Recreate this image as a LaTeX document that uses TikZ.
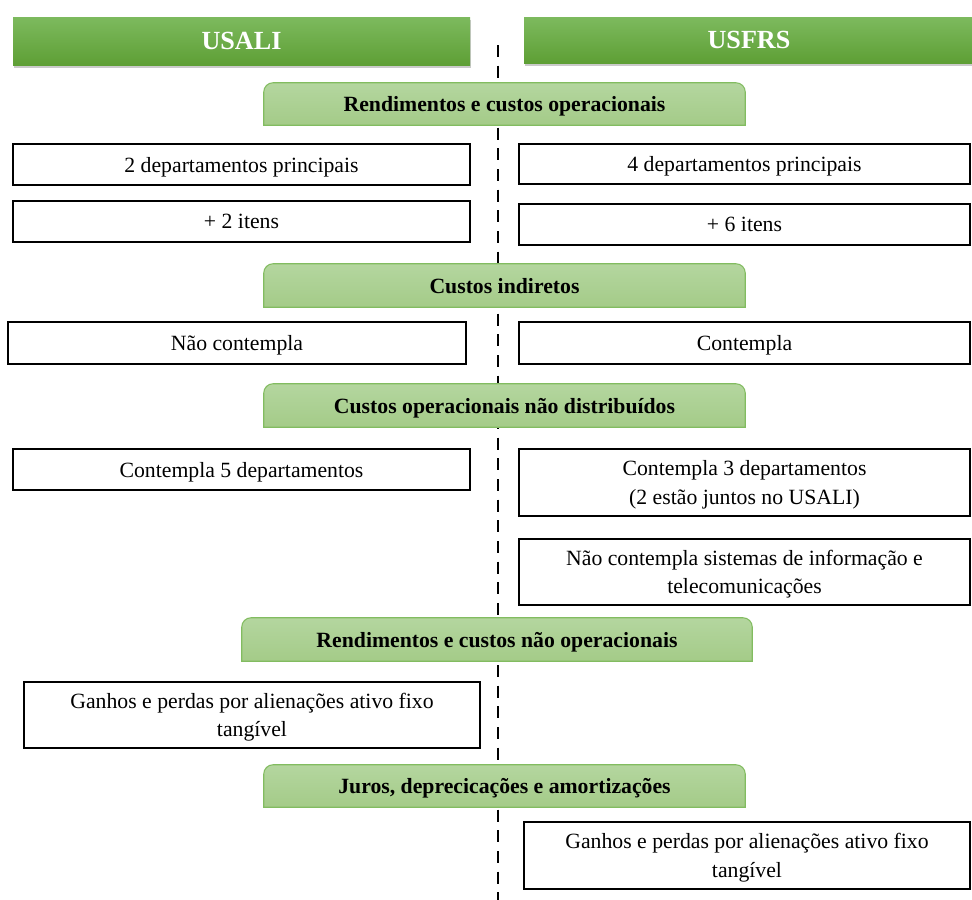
\documentclass[tikz,border=0pt]{standalone}
\usepackage{fontspec}
\setmainfont{Liberation Serif}
\usetikzlibrary{backgrounds,shadows}
\definecolor{hdtop}{HTML}{7DBA5E}
\definecolor{hdbot}{HTML}{5E9F35}
\definecolor{sectop}{HTML}{B4D69F}
\definecolor{secbot}{HTML}{A4CB88}
\definecolor{secline}{HTML}{82BC60}
\begin{document}
\begin{tikzpicture}[x=0.75pt,y=-0.75pt,
  wbox/.style={draw=black,line width=1.5pt,fill=white,inner sep=0pt,align=center,
    text depth=-1pt,font=\fontsize{16.3}{21.5}\selectfont},
  hdr/.style={inner sep=0pt,top color=hdtop,bottom color=hdbot,text=white,text depth=-1pt,
    font=\fontsize{19.6}{23}\selectfont\bfseries,
    drop shadow={shadow xshift=0.8pt,shadow yshift=-2.5pt,opacity=0.35,fill=black!60}},
  sec/.style={inner sep=0pt,align=center,text depth=-1pt,font=\fontsize{16.3}{20}\selectfont\bfseries},
  secshape/.style={draw=secline,line width=0.8pt,top color=sectop,bottom color=secbot},
  divider/.style={line width=2.2pt,dash pattern=on 9pt off 6.5pt}]
\useasboundingbox (0,0) rectangle (972,900);

% headers
\node[hdr,minimum width=457*0.75pt,minimum height=48*0.75pt] (h1) at (241.5,41) {USALI};
\node[hdr,minimum width=450*0.75pt,minimum height=46*0.75pt] (h2) at (749,40) {USFRS};

% section titles
\node[sec,minimum width=481*0.75pt,minimum height=42*0.75pt] (s1) at (504.5,104) {Rendimentos e custos operacionais};
\node[sec,minimum width=481*0.75pt,minimum height=43*0.75pt] (s2) at (504.5,285.5) {Custos indiretos};
\node[sec,minimum width=481*0.75pt,minimum height=43*0.75pt] (s3) at (504.5,405.5) {Custos operacionais não distribuídos};
\node[sec,minimum width=510*0.75pt,minimum height=43*0.75pt] (s4) at (497,639.5) {Rendimentos e custos não operacionais};
\node[sec,minimum width=481*0.75pt,minimum height=42*0.75pt] (s5) at (504.5,786) {Juros, deprecicações e amortizações};

% white boxes
\node[wbox,minimum width=457*0.75pt,minimum height=41*0.75pt] (b1) at (241.5,164.5) {2 departamentos principais};
\node[wbox,minimum width=451*0.75pt,minimum height=40*0.75pt] (b2) at (744.5,164) {4 departamentos principais};
\node[wbox,minimum width=457*0.75pt,minimum height=41*0.75pt] (b3) at (241.5,221.5) {+ 2 itens};
\node[wbox,minimum width=451*0.75pt,minimum height=41*0.75pt] (b4) at (744.5,224.5) {+ 6 itens};
\node[wbox,minimum width=458*0.75pt,minimum height=42*0.75pt] (b5) at (237,343) {Não contempla};
\node[wbox,minimum width=451*0.75pt,minimum height=42*0.75pt] (b6) at (744.5,343) {Contempla};
\node[wbox,minimum width=457*0.75pt,minimum height=41*0.75pt] (b7) at (241.5,469.5) {Contempla 5 departamentos};
\node[wbox,minimum width=451*0.75pt,minimum height=67*0.75pt] (b8) at (744.5,482.5) {Contempla 3 departamentos\\(2 estão juntos no USALI)};
\node[wbox,minimum width=451*0.75pt,minimum height=66*0.75pt] (b9) at (744.5,572) {Não contempla sistemas de informação e\\telecomunicações};
\node[wbox,minimum width=456*0.75pt,minimum height=66*0.75pt] (b10) at (252,715) {Ganhos e perdas por alienações ativo fixo\\tangível};
\node[wbox,minimum width=446*0.75pt,minimum height=67*0.75pt] (b11) at (747,855.5) {Ganhos e perdas por alienações ativo fixo\\tangível};

\coordinate (dtop) at (498,45);
\coordinate (dbot) at (498,900);

\begin{scope}[on background layer]
  \draw[divider] (dtop) -- (dbot);
  \foreach \s in {s1,s2,s3,s4,s5}{
    \path[secshape] (\s.south west) [rounded corners=7pt] -- (\s.north west) -- (\s.north east) [sharp corners] -- (\s.south east) -- cycle;
  }
\end{scope}
\end{tikzpicture}
\end{document}
